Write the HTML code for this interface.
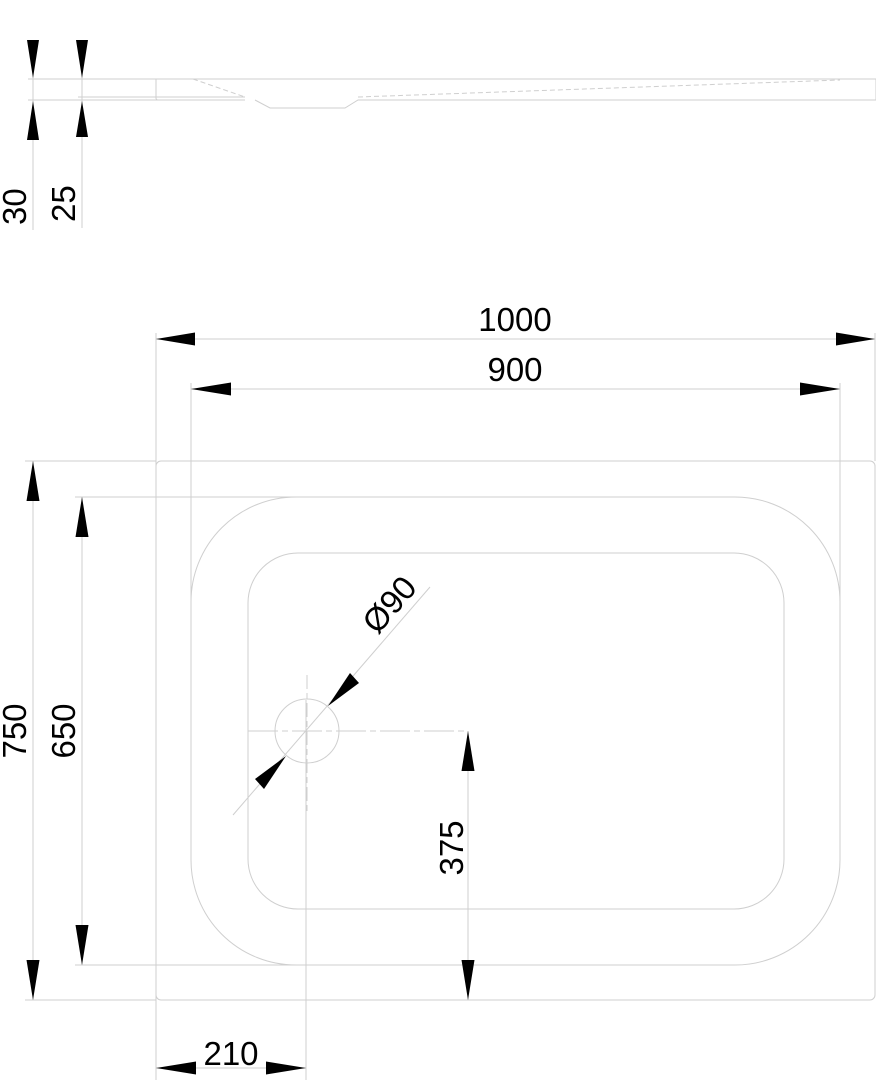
<!DOCTYPE html>
<html><head><style>html,body{margin:0;padding:0;background:#fff}svg{display:block}</style></head>
<body>
<svg width="876" height="1080" viewBox="0 0 876 1080" xmlns="http://www.w3.org/2000/svg" font-family="Liberation Sans, sans-serif">
<g fill="none" stroke="#cfcfcf" stroke-width="1">
  <line x1="33" y1="40" x2="33" y2="230"/>
  <line x1="82" y1="40" x2="82" y2="228"/>
  <line x1="28" y1="79" x2="876" y2="79"/>
  <line x1="28" y1="100" x2="245" y2="100"/>
  <line x1="78" y1="97" x2="156" y2="97"/>
  <path d="M876 79 L876 100 L358 100 L345 108 L270 108 L255 100"/>
  <path d="M156 79 L156 98 Q156 100 158 100"/>
  <line x1="193" y1="79" x2="245" y2="97" stroke-dasharray="5,3"/>
  <line x1="358" y1="97" x2="840" y2="80" stroke-dasharray="5,3"/>
  <line x1="156" y1="97" x2="245" y2="97"/>
  <rect x="156" y="461" width="719" height="539" rx="5"/>
  <rect x="191" y="497" width="649" height="468" rx="105"/>
  <rect x="248" y="553" width="536" height="356" rx="50"/>
  <line x1="156" y1="333" x2="156" y2="1080"/>
  <line x1="875" y1="333" x2="875" y2="461"/>
  <line x1="191" y1="383" x2="191" y2="600"/>
  <line x1="840" y1="383" x2="840" y2="600"/>
  <line x1="25" y1="461" x2="156" y2="461"/>
  <line x1="25" y1="1000" x2="156" y2="1000"/>
  <line x1="75" y1="497" x2="300" y2="497"/>
  <line x1="75" y1="965" x2="300" y2="965"/>
  <line x1="306" y1="700" x2="306" y2="1080"/>
  <line x1="156" y1="339" x2="875" y2="339"/>
  <line x1="191" y1="389" x2="840" y2="389"/>
  <line x1="33" y1="461" x2="33" y2="1000"/>
  <line x1="82" y1="497" x2="82" y2="965"/>
  <line x1="468" y1="731" x2="468" y2="1000"/>
  <line x1="156" y1="1068" x2="306" y2="1068"/>
  <circle cx="307" cy="731" r="32"/>
  <line x1="248" y1="731" x2="468" y2="731" stroke-dasharray="30,4,6,4"/>
  <line x1="307" y1="675" x2="307" y2="815" stroke-dasharray="14,4,6,4"/>
  <line x1="233" y1="815" x2="430" y2="587"/>
</g>
<g fill="#000">
  <polygon points="27,40 39,40 33,78"/>
  <polygon points="27,140 39,140 33,101"/>
  <polygon points="76,40 88,40 82,78"/>
  <polygon points="76,137 88,137 82,101"/>
  <polygon points="156,339 195,332.5 195,345.5"/>
  <polygon points="875,339 836,332.5 836,345.5"/>
  <polygon points="191,389 231,382.5 231,395.5"/>
  <polygon points="840,389 800,382.5 800,395.5"/>
  <polygon points="156,1068 196,1061.5 196,1074.5"/>
  <polygon points="306,1068 266,1061.5 266,1074.5"/>
  <polygon points="33,461 26.5,501 39.5,501"/>
  <polygon points="33,1000 26.5,960 39.5,960"/>
  <polygon points="82,497 75.5,537 88.5,537"/>
  <polygon points="82,965 75.5,925 88.5,925"/>
  <polygon points="468,731 461.5,771 474.5,771"/>
  <polygon points="468,1000 461.5,960 474.5,960"/>
  <polygon points="328,706 350,673 359,683"/>
  <polygon points="286,756 264,789 255,779"/>
</g>
<g fill="#000" font-size="33">
  <text x="515" y="331" text-anchor="middle">1000</text>
  <text x="515" y="381" text-anchor="middle">900</text>
  <text x="231" y="1065" text-anchor="middle">210</text>
  <text transform="translate(26,225) rotate(-90)">30</text>
  <text transform="translate(75,222) rotate(-90)">25</text>
  <text transform="translate(26,731) rotate(-90)" text-anchor="middle">750</text>
  <text transform="translate(75,731) rotate(-90)" text-anchor="middle">650</text>
  <text transform="translate(463,848) rotate(-90)" text-anchor="middle">375</text>
  <text transform="translate(398,612) rotate(-49)" text-anchor="middle">Ø90</text>
</g>
</svg>
</body></html>
